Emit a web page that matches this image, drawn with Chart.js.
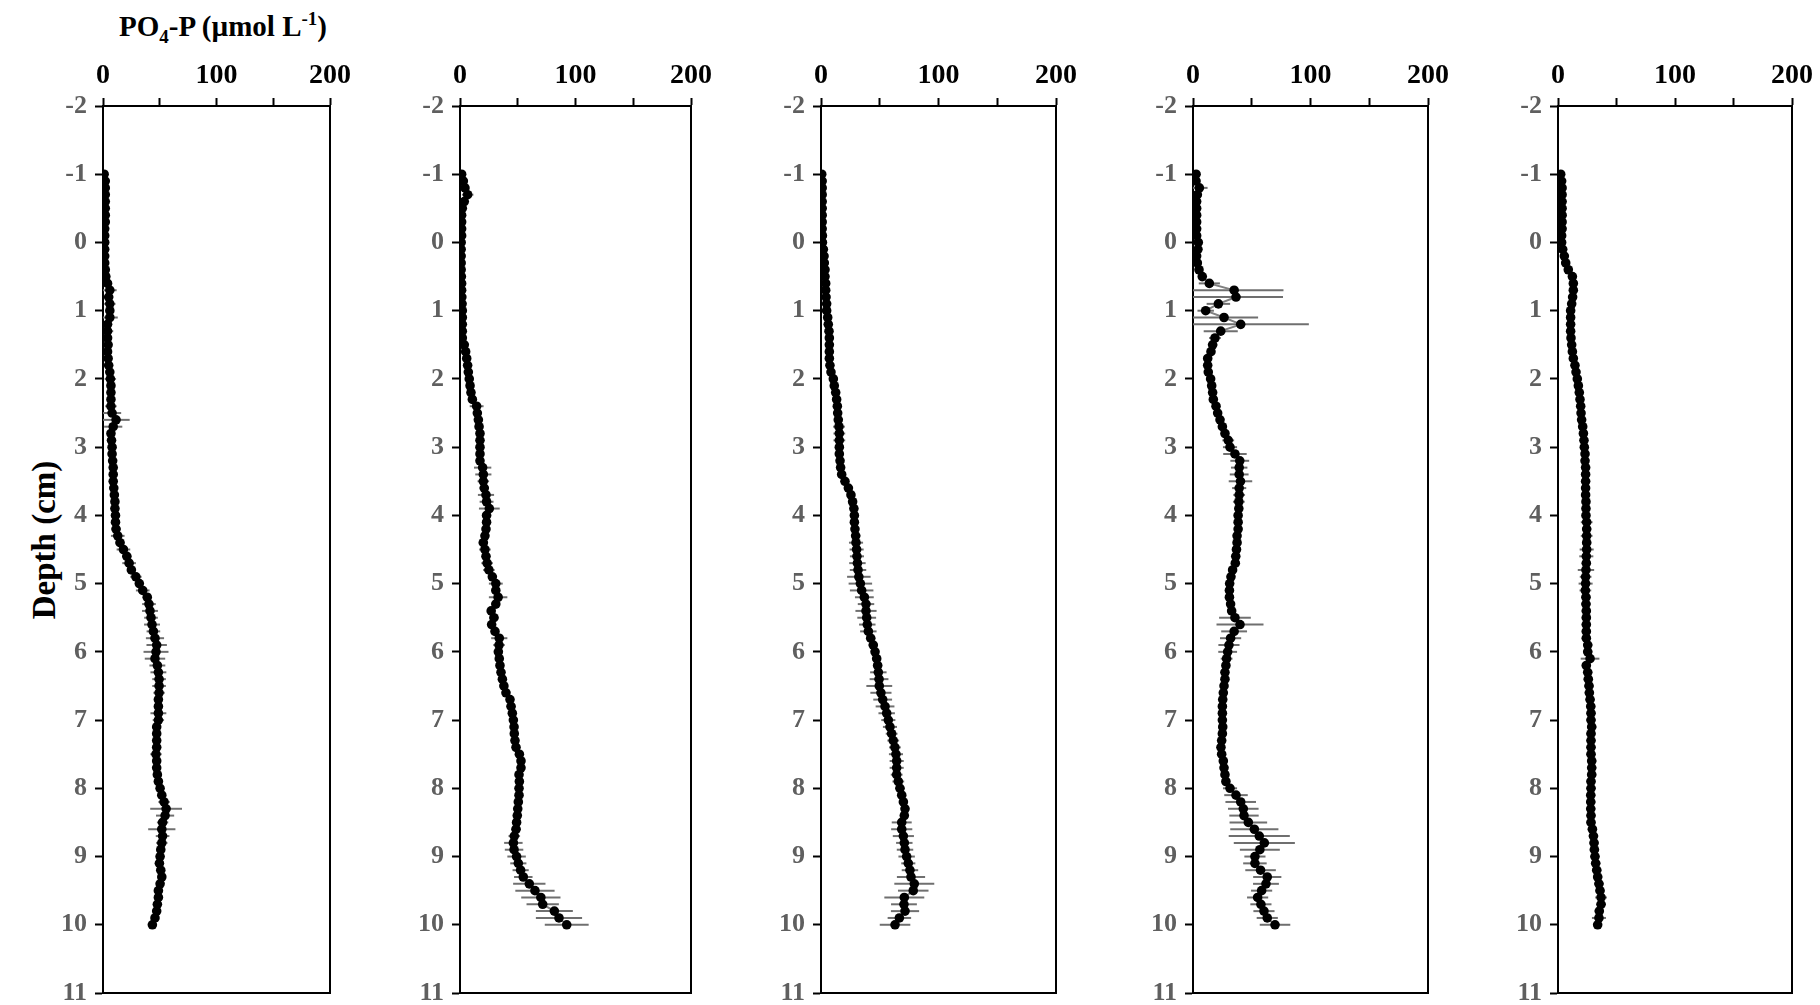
<!DOCTYPE html>
<html>
<head>
<meta charset="utf-8">
<title>PO4-P depth profiles</title>
<script src="https://cdn.jsdelivr.net/npm/chart.js@4.4.1/dist/chart.umd.min.js"></script>
<style>
  html, body { margin: 0; padding: 0; background: #fff; }
  #wrap {
    position: relative; width: 1820px; height: 1005px; overflow: hidden;
    font-family: 'Liberation Serif', 'Times New Roman', serif; color: #000;
  }
  #wrap canvas { position: absolute; top: 0; }
  .title {
    position: absolute; left: 223px; top: 12px; transform: translateX(-50%);
    font-size: 29px; line-height: 29px; font-weight: bold; white-space: nowrap;
  }
  .title sub, .title sup { font-size: 19px; line-height: 0; }
  .ylab {
    position: absolute; left: 44px; top: 540px;
    transform: translate(-50%, -50%) rotate(-90deg);
    font-size: 33px; font-weight: bold; white-space: nowrap;
  }
</style>
</head>
<body>
<div id="wrap">
  <div class="title">PO<sub>4</sub>-P (µmol L<sup>-1</sup>)</div>
  <div class="ylab">Depth (cm)</div>
</div>
<script>
'use strict';

// ─────────────────────────────────────────────────────────────
// 1. Data
// ─────────────────────────────────────────────────────────────

const Y_TICKS       = [-2, -1, 0, 1, 2, 3, 4, 5, 6, 7, 8, 9, 10, 11];
const X_TICK_LABELS = [0, 100, 200];

// Sampling depths (cm), one row per centimetre
const DEPTH_CM = [
  -1.0, -0.9, -0.8, -0.7, -0.6, -0.5, -0.4, -0.3, -0.2, -0.1,
   0.0,  0.1,  0.2,  0.3,  0.4,  0.5,  0.6,  0.7,  0.8,  0.9,
   1.0,  1.1,  1.2,  1.3,  1.4,  1.5,  1.6,  1.7,  1.8,  1.9,
   2.0,  2.1,  2.2,  2.3,  2.4,  2.5,  2.6,  2.7,  2.8,  2.9,
   3.0,  3.1,  3.2,  3.3,  3.4,  3.5,  3.6,  3.7,  3.8,  3.9,
   4.0,  4.1,  4.2,  4.3,  4.4,  4.5,  4.6,  4.7,  4.8,  4.9,
   5.0,  5.1,  5.2,  5.3,  5.4,  5.5,  5.6,  5.7,  5.8,  5.9,
   6.0,  6.1,  6.2,  6.3,  6.4,  6.5,  6.6,  6.7,  6.8,  6.9,
   7.0,  7.1,  7.2,  7.3,  7.4,  7.5,  7.6,  7.7,  7.8,  7.9,
   8.0,  8.1,  8.2,  8.3,  8.4,  8.5,  8.6,  8.7,  8.8,  8.9,
   9.0,  9.1,  9.2,  9.3,  9.4,  9.5,  9.6,  9.7,  9.8,  9.9,
  10.0,
];

// PO4-P (µmol L-1), profile 1
const PO4_1 = [
  1, 2, 2, 2, 2, 2, 2, 2, 1.5, 1.5,
  1.5, 1.5, 1.5, 1.5, 2, 2.5, 4, 6, 5, 6,
  6, 6, 4, 4, 4, 4.5, 4, 4.5, 5, 6,
  6.5, 7, 7, 7, 7, 8, 11.5, 9, 7, 7.5,
  8, 8, 8.5, 9, 9, 9, 9.5, 10, 10.5, 10.5,
  11, 11, 11.5, 13, 15, 18, 21, 23, 25, 29,
  32, 35, 39, 40.5, 41.4, 42.3, 43.2, 44.4, 45.8, 47.3,
  46.7, 45.8, 47.9, 48.8, 49.4, 49.4, 49.4, 48.8, 48.8, 48.8,
  48.8, 47.3, 47.3, 47.3, 47.3, 46.7, 47.3, 47.3, 47.9, 48.8,
  50.3, 51.8, 53.8, 55.6, 54.7, 52.5, 51.8, 52.5, 51.8, 50.9,
  50.3, 49.7, 50.9, 51.8, 50.3, 48.8, 48.8, 47.9, 47.3, 45.8,
  43.5,
];
const ERR_1 = [
  1, 1, 1, 1, 1, 1, 1, 1, 1, 1,
  1, 1, 1, 1, 1, 2, 3, 6, 4, 5,
  3, 7, 4, 5, 4, 3, 2, 2, 2, 3,
  5, 3, 3, 3, 5, 8, 12, 8, 3, 2,
  2, 2, 2, 2, 2, 2, 2, 2, 3, 2,
  3, 3, 4, 6, 4, 6, 4, 6, 3, 5,
  3, 6, 4, 6, 7, 6, 7, 6, 8, 9,
  11, 9, 7, 7, 6, 6, 5, 3, 3, 7,
  5, 3, 3, 3, 3, 5, 3, 3, 3, 4,
  3, 3, 5, 14, 8, 5, 12, 6, 5, 3,
  3, 3, 3, 3, 3, 3, 3, 3, 3, 3,
  2,
];

// profile 2
const PO4_2 = [
  1.4, 2.9, 4.3, 6.6, 3.7, 2, 1.4, 1.4, 1.4, 1.4,
  1, 1, 1, 1, 1, 1.2, 1.4, 1.4, 1.6, 1.8,
  2, 2, 2, 2, 2, 3.7, 4.9, 5.8, 6.6, 7.2,
  8, 8.7, 9.5, 10.7, 14.4, 15, 15.9, 16.5, 17.3, 17.3,
  17.3, 17.3, 17.3, 19.6, 20.2, 20.2, 21, 22.5, 23, 25.4,
  23, 23, 22.5, 21.6, 20.2, 21.6, 22.5, 23.5, 25, 28,
  31, 31, 33, 31, 27, 29.4, 27.4, 30.3, 34, 33.8,
  33.2, 34, 34.6, 35.5, 36.7, 38, 39.8, 43.3, 44.2, 45.3,
  46.2, 46.8, 47, 47.6, 48.5, 51.4, 52.8, 52.8, 51.1, 51.4,
  51.1, 51.1, 50.5, 50, 49.6, 49, 48.5, 47, 46.2, 46.8,
  49, 50.5, 52.5, 54.8, 60, 64.9, 70, 71.6, 81.7, 85.7,
  92.4,
];
const ERR_2 = [
  1, 1, 2, 5, 2, 1, 1, 1, 1, 1,
  1, 1, 1, 1, 1, 1, 1, 1, 1, 1,
  1, 1, 1, 1, 1, 1, 1, 1, 1, 1,
  1, 1, 2, 2, 6, 3, 3, 2, 2, 2,
  2, 2, 2, 7.5, 7, 5, 4, 7, 6, 9,
  4, 3, 3, 3, 4, 5, 3, 5, 5, 3,
  6, 3, 8, 3, 3, 4, 3, 3, 7, 5,
  3, 2, 2, 2, 2, 2, 2, 2, 4, 2,
  2, 2, 2, 2, 2, 3, 2, 2, 2, 2,
  2, 2, 2, 2, 2, 3, 4, 5, 8, 8,
  8, 7, 7, 8, 14, 17, 17, 14, 16, 20,
  19,
];

// profile 3
const PO4_3 = [
  0.6, 1, 1, 1, 1, 1, 1, 1, 1, 1.2,
  1.2, 2, 2.6, 2.8, 3.4, 3.4, 4, 4, 4.3, 4.8,
  4.8, 5.7, 6.2, 6.8, 7.1, 7.1, 7.1, 7.1, 7.6, 8.5,
  10.5, 11.3, 12.5, 13.3, 13.9, 14.2, 14.7, 15.3, 15.6, 15.6,
  15.6, 15.6, 16.2, 16.7, 17.6, 20.4, 23.3, 25.5, 26.9, 28,
  28.4, 28.4, 28.9, 29.5, 29.8, 30.3, 30.6, 31, 31.5, 32.2,
  33.5, 34.6, 36.9, 38.3, 38.3, 38.9, 39.4, 40.3, 42.3, 44.5,
  46, 47.4, 48.2, 48.8, 49.4, 49.6, 51, 52.5, 54.5, 55.9,
  57.3, 58.7, 60.1, 61.5, 62.9, 63.8, 64.4, 64.4, 64.4, 65.8,
  67.2, 68.7, 70.1, 71.5, 70.9, 68.7, 68.7, 70.1, 70.9, 71.5,
  72.9, 74.3, 75.7, 76.6, 79.4, 78.5, 70.9, 70.6, 71.5, 66.7,
  63,
];
const ERR_3 = [
  1, 1, 1, 1, 1, 1, 1, 1, 1, 1,
  1, 1, 1, 1, 1, 1, 1, 1, 1, 1,
  1, 1, 1, 1, 1, 1, 1, 1, 1, 1,
  2, 2, 2, 2, 2, 2, 3, 5, 5, 5,
  2, 2, 2, 2, 2, 2, 2, 2, 2, 3,
  3, 3, 3, 4, 6, 6, 6, 7, 7, 10,
  10, 10, 8, 7, 9, 8, 7, 7, 4, 4,
  3, 3, 4, 7, 8, 11, 9, 8, 8, 7,
  6, 6, 5, 5, 5, 6, 6, 6, 5, 5,
  4, 3, 3, 3, 3, 8.5, 9, 9, 7, 7,
  7, 6, 7, 12, 17, 13, 17, 11, 12, 10,
  13,
];

// profile 4
const PO4_4 = [
  2.6, 2.6, 5.4, 3.7, 3.1, 3.1, 3.1, 3.1, 3.1, 3.1,
  4.5, 4.2, 3.1, 3.7, 5.1, 7.9, 13.9, 35, 36.6, 21.6,
  10.8, 26.4, 40.6, 23.6, 18.7, 16.7, 15.3, 12.5, 12.5, 13,
  15, 15.9, 16.7, 17.3, 19.6, 21, 23, 25, 27.2, 30,
  31.5, 35.7, 39.8, 39.3, 39.3, 40.4, 39.3, 39.3, 39, 39,
  38.4, 38.4, 38.4, 37.5, 37.5, 37, 36.4, 36, 33.7, 32.3,
  31.2, 31, 31, 32, 32.9, 35.7, 40, 35, 32, 30.6,
  29.5, 28.6, 28, 27.2, 27.2, 26.4, 25.8, 25.3, 25, 25,
  25, 25.3, 25, 24.4, 23.8, 24.4, 25.8, 26.4, 27.2, 28,
  31.5, 36.6, 40.6, 42.8, 43.4, 47.1, 52.2, 56.4, 60.7, 56.9,
  52.7, 52.7, 57.5, 63.2, 62.1, 58.4, 55, 57.8, 60.4, 63.2,
  69.8,
];
const ERR_4 = [
  1, 1, 7, 2, 1, 1, 1, 1, 1, 1,
  1, 1, 1, 1, 1, 2, 9, 42, 40, 10,
  7, 29, 58, 14.5, 5, 4, 3, 2, 2, 2,
  2, 2, 2, 2, 2, 2, 2, 2, 3, 5,
  6, 10, 8, 7, 8, 10, 6, 5, 5, 3,
  3, 3, 3, 3, 3, 3, 3, 3, 3, 3,
  3, 3, 3, 3, 3, 13.5, 20, 11, 9, 9,
  8, 5, 3, 3, 3, 3, 2, 2, 2, 2,
  2, 2, 2, 2, 2, 2, 2, 2, 2, 3,
  6, 10, 13, 13, 12.5, 16, 20.5, 26, 26, 17,
  9, 10, 13, 12, 11, 9, 9, 9, 9, 9,
  13,
];

// profile 5
const PO4_5 = [
  2.3, 3.1, 3.5, 3.5, 3.5, 3.5, 3.5, 3.5, 3.5, 3.1,
  3.1, 4, 5.4, 6.6, 8.8, 12.3, 13.1, 13.1, 12.5, 11.7,
  10.8, 10.8, 10.8, 10.8, 11.1, 11.7, 12.3, 13.1, 14.5, 15.4,
  16.5, 17.4, 18.2, 18.8, 19.4, 19.7, 20.2, 21.1, 21.7, 22.2,
  22.5, 23.1, 23.1, 23.6, 23.6, 23.6, 23.6, 23.6, 23.9, 23.9,
  23.9, 24.5, 24.5, 24.5, 24.5, 24.5, 24.2, 24.2, 23.9, 23.6,
  23.6, 23.4, 23.9, 23.9, 24.2, 24.2, 24.2, 24.2, 24.2, 25.4,
  25.4, 27.4, 24.2, 25.4, 25.9, 26.5, 26.8, 27.4, 28, 28.2,
  28.2, 28.8, 28.2, 28.2, 28.2, 28.2, 28.8, 28.8, 28.8, 28.2,
  28.2, 28, 28, 28, 28.2, 28.2, 29.4, 30.3, 30.8, 31.1,
  31.6, 32.2, 33.1, 33.9, 35, 35.9, 36.8, 36.8, 35.3, 35,
  33.9,
];
const ERR_5 = [
  1, 1, 1, 1, 1, 1, 1, 1, 1, 1,
  1, 1, 1, 1, 1, 1, 1, 1, 1, 1,
  1, 1, 1, 1, 1, 1, 1, 1, 1, 1,
  1, 1, 1, 1, 1, 1, 1, 1, 1, 1,
  2, 2, 2, 2, 2, 2, 2, 2, 2, 2,
  3, 5, 4, 5, 4, 6, 6, 4, 7, 5,
  6, 5, 4, 4, 4, 4, 4, 4, 4, 4,
  4, 8, 4, 4, 4, 4, 4, 4, 4, 4,
  4, 4, 4, 4, 4, 4, 4, 4, 4, 4,
  4, 4, 4, 4, 4, 4, 4, 4, 4, 4,
  4, 4, 4, 4, 4, 4, 5, 4, 4, 6,
  3,
];

const PROFILES = [
  [PO4_1, ERR_1],
  [PO4_2, ERR_2],
  [PO4_3, ERR_3],
  [PO4_4, ERR_4],
  [PO4_5, ERR_5],
];

// ─────────────────────────────────────────────────────────────
// 2. Layout
// ─────────────────────────────────────────────────────────────

// plot-area left edge and width for each panel (px)
const PANEL_BOX = [
  { left: 103,  width: 227 },
  { left: 460,  width: 231 },
  { left: 821,  width: 235 },
  { left: 1193, width: 235 },
  { left: 1558, width: 234 },
];
const PLOT_TOP    = 106;
const PLOT_BOTTOM = 993;
const CANVAS_H    = 1045;   // taller than the page so the "11" label has room
const Y_AXIS_W    = 60;
const PAD_RIGHT   = 26;

const FONT_FAMILY = "'Liberation Serif', 'Times New Roman', serif";
const LINE_GREY   = '#808080';
const ERR_GREY    = '#6f6f6f';

// ─────────────────────────────────────────────────────────────
// 3. Plugins
// ─────────────────────────────────────────────────────────────

// horizontal error bars, drawn under the markers
const errorBarPlugin = {
  id: 'errorBars',
  beforeDatasetsDraw(chart) {
    const { ctx, chartArea, scales } = chart;
    ctx.save();
    ctx.beginPath();
    ctx.rect(chartArea.left, chartArea.top, chartArea.width, chartArea.height);
    ctx.clip();
    ctx.strokeStyle = ERR_GREY;
    ctx.lineWidth = 2;
    chart.data.datasets.forEach(ds => {
      (ds.errors || []).forEach((e, i) => {
        const pt = ds.data[i];
        const y  = scales.y.getPixelForValue(pt.y);
        const x1 = scales.x.getPixelForValue(pt.x - e);
        const x2 = scales.x.getPixelForValue(pt.x + e);
        ctx.beginPath();
        ctx.moveTo(x1, y);
        ctx.lineTo(x2, y);
        ctx.stroke();
      });
    });
    ctx.restore();
  },
};

// right and bottom sides of the box
const frameBoxPlugin = {
  id: 'frameBox',
  afterDraw(chart) {
    const { ctx, chartArea: a } = chart;
    ctx.save();
    ctx.strokeStyle = '#000';
    ctx.lineWidth = 2;
    ctx.beginPath();
    ctx.moveTo(a.right, a.top);
    ctx.lineTo(a.right, a.bottom);
    ctx.lineTo(a.left, a.bottom);
    ctx.stroke();
    ctx.restore();
  },
};

// ─────────────────────────────────────────────────────────────
// 4. Charts
// ─────────────────────────────────────────────────────────────

function axisGrid() {
  return {
    drawOnChartArea: false,
    drawTicks: true,
    tickLength: 8,
    tickWidth: 2,
    color: '#000',
  };
}

function buildConfig(values, errors) {
  return {
    type: 'scatter',
    data: {
      datasets: [{
        data: DEPTH_CM.map((d, i) => ({ x: values[i], y: d })),
        errors,
        showLine: true,
        borderColor: LINE_GREY,
        borderWidth: 2,
        pointRadius: 4.8,
        pointBorderWidth: 0,
        pointBackgroundColor: '#000',
        pointBorderColor: '#000',
      }],
    },
    options: {
      responsive: false,
      animation: false,
      devicePixelRatio: 1,
      layout: { padding: { top: 0, left: 0, right: PAD_RIGHT, bottom: CANVAS_H - PLOT_BOTTOM } },
      plugins: { legend: { display: false }, tooltip: { enabled: false } },
      scales: {
        x: {
          type: 'linear',
          position: 'top',
          min: X_TICK_LABELS[0],
          max: X_TICK_LABELS[X_TICK_LABELS.length - 1],
          ticks: {
            stepSize: 50,
            autoSkip: false,
            maxRotation: 0,
            padding: 5,
            color: '#000',
            font: { family: FONT_FAMILY, size: 28, weight: 'bold' },
            callback: v => (X_TICK_LABELS.includes(v) ? String(v) : ''),
          },
          grid: axisGrid(),
          border: { display: true, color: '#000', width: 2 },
          afterFit: s => { s.height = PLOT_TOP; },
        },
        y: {
          type: 'linear',
          reverse: true,
          min: Y_TICKS[0],
          max: Y_TICKS[Y_TICKS.length - 1],
          ticks: {
            stepSize: 1,
            autoSkip: false,
            padding: 8,
            color: '#5f5f5f',
            font: { family: FONT_FAMILY, size: 26, weight: 'bold' },
          },
          grid: axisGrid(),
          border: { display: true, color: '#000', width: 2 },
          afterFit: s => { s.width = Y_AXIS_W; },
        },
      },
    },
    plugins: [errorBarPlugin, frameBoxPlugin],
  };
}

const wrap = document.getElementById('wrap');

PROFILES.forEach(([values, errors], i) => {
  const box    = PANEL_BOX[i];
  const canvas = document.createElement('canvas');
  canvas.width  = Y_AXIS_W + box.width + PAD_RIGHT;
  canvas.height = CANVAS_H;
  canvas.style.left   = (box.left - Y_AXIS_W) + 'px';
  canvas.style.width  = canvas.width + 'px';
  canvas.style.height = CANVAS_H + 'px';
  wrap.appendChild(canvas);
  new Chart(canvas, buildConfig(values, errors));
});
</script>
</body>
</html>
